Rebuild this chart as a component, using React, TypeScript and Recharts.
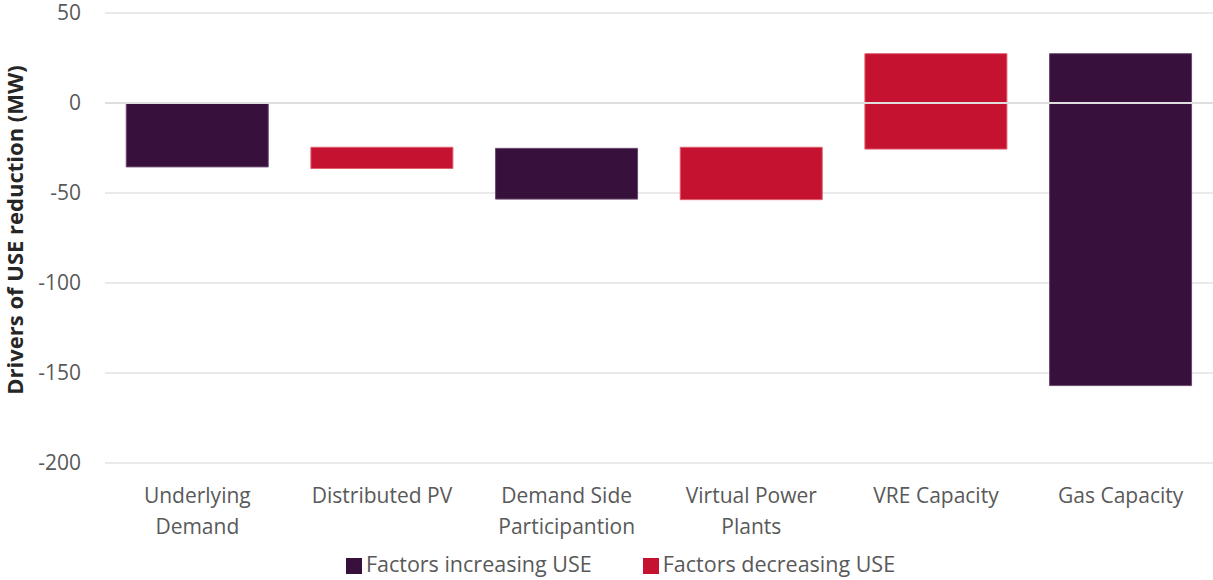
import React from 'react';
import { BarChart, Bar, XAxis, YAxis, CartesianGrid, Legend, ReferenceLine } from 'recharts';

const categories = ['Underlying Demand', 'Distributed PV', 'Demand Side Participantion', 'Virtual Power Plants', 'VRE Capacity', 'Gas Capacity'];
const tickLines: string[][] = [
  ['Underlying', 'Demand'],
  ['Distributed PV'],
  ['Demand Side', 'Participantion'],
  ['Virtual Power', 'Plants'],
  ['VRE Capacity'],
  ['Gas Capacity'],
];
// [low, high] ranges of each waterfall step
const increasing: ([number, number] | null)[] = [[-35.5, 0], null, [-53.4, -25.2], null, null, [-157, 27.4]];
const decreasing: ([number, number] | null)[] = [null, [-36.4, -24.6], null, [-53.7, -24.6], [-25.6, 27.4], null];
const yTicks = [-200, -150, -100, -50, 0, 50];

const data = categories.map((c, i) => ({ name: c, inc: increasing[i], dec: decreasing[i] }));

const FONT = '"Open Sans", sans-serif';
const FS = 21;

const Tick = (props: any) => {
  const { x, y, payload } = props;
  const lines = tickLines[payload.index] || [payload.value];
  return (
    <text x={x} y={y} textAnchor="middle" fill="#595959" fontSize={FS} fontFamily={FONT}>
      {lines.map((l, i) => (
        <tspan key={i} x={x} dy={i === 0 ? 32 : 31}>{l}</tspan>
      ))}
    </text>
  );
};

const order: Record<string, number> = { 'Factors increasing USE': 0, 'Factors decreasing USE': 1 };

export default function App() {
  return (
    <div style={{ position: 'absolute', left: 0, top: 0 }}>
      <BarChart
        width={1213}
        height={580}
        data={data}
        margin={{ top: 13, right: 0, left: 0, bottom: 0 }}
        barCategoryGap="11.5%"
      >
        <CartesianGrid vertical={false} stroke="#e3e3e3" strokeWidth={1.5} />
        <XAxis xAxisId="a" dataKey="name" axisLine={false} tickLine={false} tick={<Tick />} interval={0} height={88} />
        <XAxis xAxisId="b" dataKey="name" hide />
        <YAxis
          xAxisId="a"
          domain={[-200, 50]}
          ticks={yTicks}
          axisLine={false}
          tickLine={false}
          width={105}
          tick={{ fill: '#595959', fontSize: FS, fontFamily: FONT, dx: -16 }}
          label={{ value: 'Drivers of USE reduction (MW)', angle: -90, position: 'insideLeft', dx: 10, dy: -8, style: { textAnchor: 'middle', fill: '#262626', fontSize: 22, fontWeight: 700, fontFamily: FONT } }}
        />
        <Bar xAxisId="a" dataKey="inc" name="Factors increasing USE" fill="#37103c" stroke="#6a4a6e" strokeWidth={1} isAnimationActive={false} legendType="square" />
        <Bar xAxisId="b" dataKey="dec" name="Factors decreasing USE" fill="#c41230" stroke="#e06070" strokeWidth={1} isAnimationActive={false} legendType="square" />
        <ReferenceLine xAxisId="a" y={0} stroke="#dedede" strokeWidth={2} />
        <Legend
          verticalAlign="bottom"
          iconSize={16}
          itemSorter={(item: any) => order[item.value] ?? 0}
          wrapperStyle={{ fontFamily: FONT, fontSize: 21.5, color: '#595959', bottom: 2, paddingLeft: 38, boxSizing: 'border-box' }}
          formatter={(v: string) => <span style={{ color: '#595959', marginRight: order[v] === 0 ? 41 : 0 }}>{v}</span>}
        />
      </BarChart>
    </div>
  );
}
